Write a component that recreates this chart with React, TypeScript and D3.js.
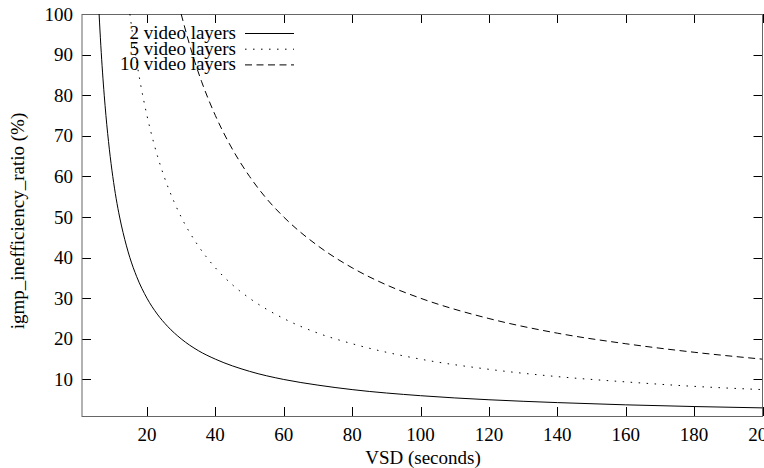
import React from "react";
import * as d3 from "d3";

const xTicks = [20, 40, 60, 80, 100, 120, 140, 160, 180, 200];
const yTicks = [10, 20, 30, 40, 50, 60, 70, 80, 90, 100];

const seriesNames = ["2 video layers", "5 video layers", "10 video layers"];

const x2 = [6, 6.5, 7, 7.5, 8, 9, 10, 11, 12, 13, 14, 15, 17, 20, 23, 26, 30, 35, 40, 50, 60, 70, 80, 100, 120, 140, 160, 180, 200];
const y2 = [100, 92.3, 85.7, 80, 75, 66.7, 60, 54.5, 50, 46.2, 42.9, 40, 35.3, 30, 26.1, 23.1, 20, 17.1, 15, 12, 10, 8.6, 7.5, 6, 5, 4.3, 3.75, 3.33, 3];

const x5 = [15, 16, 17, 18, 20, 22, 25, 28, 30, 35, 40, 45, 50, 60, 70, 80, 100, 120, 140, 160, 180, 200];
const y5 = [100, 93.8, 88.2, 83.3, 75, 68.2, 60, 53.6, 50, 42.9, 37.5, 33.3, 30, 25, 21.4, 18.8, 15, 12.5, 10.7, 9.4, 8.3, 7.5];

const x10 = [30, 32, 34, 36, 40, 44, 50, 55, 60, 70, 80, 90, 100, 120, 140, 160, 180, 200];
const y10 = [100, 93.8, 88.2, 83.3, 75, 68.2, 60, 54.5, 50, 42.9, 37.5, 33.3, 30, 25, 21.4, 18.8, 16.7, 15];

const dashes = ["", "1.5,6.5", "7,4.5"];

export default function App() {
  const W = 764, H = 468;
  const left = 82, right = 762.5, top = 14, bottom = 416;
  const xs = d3.scaleLinear().domain([1, 200]).range([left, right]);
  const ys = d3.scaleLinear().domain([1, 100]).range([bottom, top]);
  const line = d3
    .line<[number, number]>()
    .x((d) => xs(d[0]))
    .y((d) => ys(d[1]))
    .curve(d3.curveMonotoneX);
  const series = [
    x2.map((v, i) => [v, y2[i]] as [number, number]),
    x5.map((v, i) => [v, y5[i]] as [number, number]),
    x10.map((v, i) => [v, y10[i]] as [number, number]),
  ];
  const font = "'Liberation Serif', 'Times New Roman', serif";
  const tl = 9;
  return (
    <svg
      width={W}
      height={H}
      style={{ position: "absolute", left: 0, top: 0, background: "#fff" }}
      fontFamily={font}
      fontSize={19}
    >
      <defs>
        <clipPath id="clip">
          <rect x={left} y={top} width={right - left} height={bottom - top} />
        </clipPath>
      </defs>
      {yTicks.map((t) => (
        <g key={"y" + t}>
          <line x1={left} x2={left + tl} y1={Math.round(ys(t)) + 0.5} y2={Math.round(ys(t)) + 0.5} stroke="#000" />
          <line x1={right - tl} x2={right} y1={Math.round(ys(t)) + 0.5} y2={Math.round(ys(t)) + 0.5} stroke="#000" />
          <text x={73} y={ys(t)} dy="0.35em" textAnchor="end" fill="#000">
            {t}
          </text>
        </g>
      ))}
      {xTicks.map((t) => (
        <g key={"x" + t}>
          <line x1={Math.round(xs(t)) + 0.5} x2={Math.round(xs(t)) + 0.5} y1={bottom} y2={bottom - tl} stroke="#000" />
          <line x1={Math.round(xs(t)) + 0.5} x2={Math.round(xs(t)) + 0.5} y1={top} y2={top + tl} stroke="#000" />
          <text x={xs(t)} y={441} textAnchor="middle" fill="#000">
            {t}
          </text>
        </g>
      ))}
      <rect x={left} y={top + 0.5} width={right - left} height={bottom - top} fill="none" stroke="#666" strokeWidth={1} />
      <g clipPath="url(#clip)">
        {series.map((s, i) => (
          <path key={i} d={line(s) || ""} fill="none" stroke="#000" strokeWidth={1} strokeDasharray={dashes[i] || undefined} />
        ))}
      </g>
      {seriesNames.map((n, i) => (
        <g key={n}>
          <text x={236} y={39 + i * 15.7} textAnchor="end" fill="#000">
            {n}
          </text>
          <line x1={245} x2={294} y1={33.5 + i * 15.7} y2={33.5 + i * 15.7} stroke="#000" strokeDasharray={dashes[i] || undefined} />
        </g>
      ))}
      <text x={423} y={464} textAnchor="middle" fill="#000">
        VSD (seconds)
      </text>
      <text transform={`translate(24, 221) rotate(-90)`} textAnchor="middle" fill="#000">
        igmp_inefficiency_ratio (%)
      </text>
    </svg>
  );
}
